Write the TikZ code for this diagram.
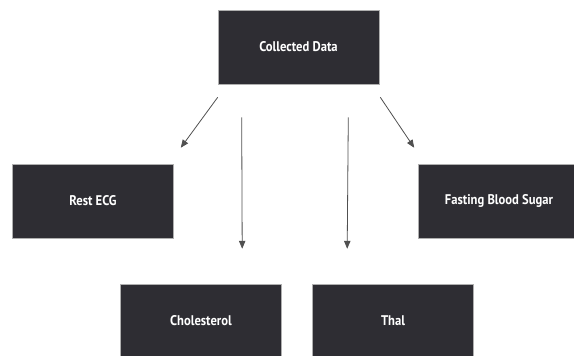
\documentclass[tikz,border=0pt]{standalone}
\usepackage{fontspec}
\setmainfont{PT Sans}[FakeStretch=0.9]
\usetikzlibrary{arrows,calc}
\definecolor{boxfill}{RGB}{46,45,51}
\definecolor{boxline}{RGB}{175,175,175}
\definecolor{arrowcol}{RGB}{80,80,80}

\tikzset{
  databox/.style={rectangle, fill=boxfill, draw=boxline, line width=0.6pt,
                  minimum width=161pt, minimum height=74pt, text=white,
                  font=\bfseries\fontsize{14}{16}\selectfont},
  flow/.style={-triangle 45, draw=arrowcol, line width=0.8pt}
}

\begin{document}
\begin{tikzpicture}[x=1pt, y=-1pt]
% page = 574 x 356, y runs downwards
\useasboundingbox (0,0) rectangle (574,356);

% source
\node[databox] (cd) at (298.5,47) {Collected Data};

% attributes
\node[databox] (ecg)  at (93,201)  {Rest ECG};
\node[databox] (fbs)  at (499,201) {Fasting Blood Sugar};
\node[databox] (chol) at (201,321) {Cholesterol};
\node[databox] (thal) at (393,321) {Thal};

% arrows
\draw[flow] ($(cd.south west)+(0,13)$)  -- ($(ecg.north east)+(7,-16)$);
\draw[flow] ($(cd.south west)+(24,33)$) -- ($(chol.north west)+(122,-35)$);
\draw[flow] ($(cd.south east)+(-31,33)$) -- ($(thal.north west)+(35,-35)$);
\draw[flow] ($(cd.south east)+(1,13)$)  -- ($(fbs.north west)+(-4,-16)$);

\end{tikzpicture}
\end{document}
